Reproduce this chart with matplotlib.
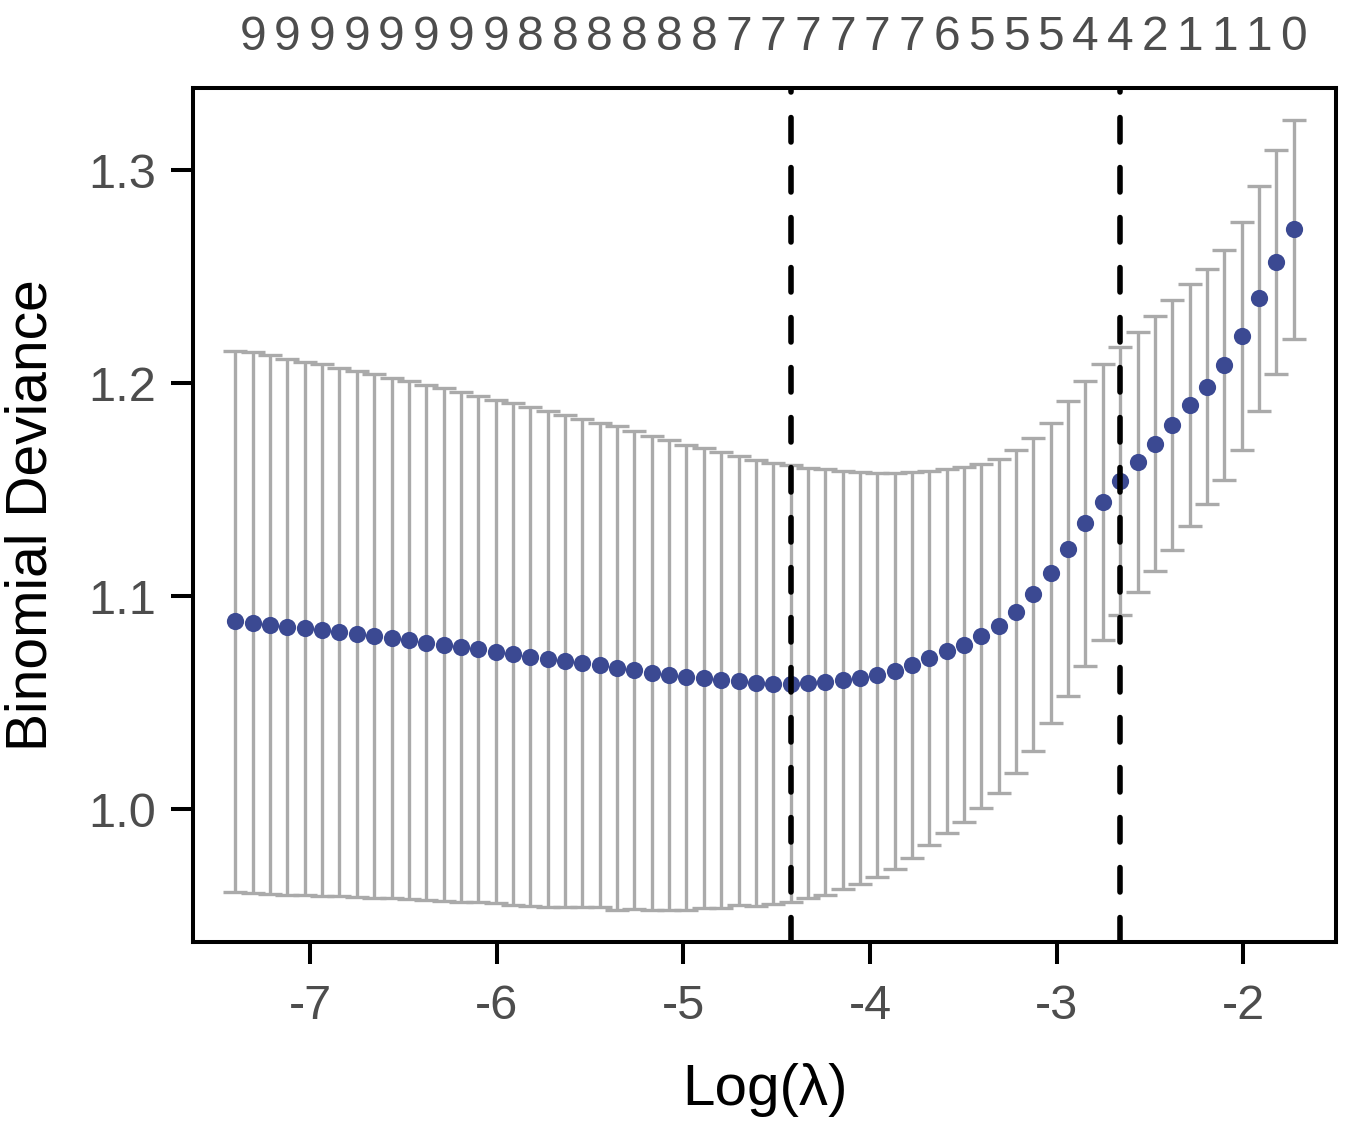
import matplotlib
matplotlib.use('Agg')
import numpy as np
import matplotlib.pyplot as plt

plt.rcParams['font.family'] = ['Liberation Sans', 'DejaVu Sans']

# cross-validation curve (left to right)
log_lambda = [-7.402, -7.309, -7.216, -7.123, -7.030, -6.937, -6.844, -6.751, -6.658, -6.565,
              -6.472, -6.379, -6.286, -6.193, -6.100, -6.007, -5.914, -5.821, -5.728, -5.635,
              -5.542, -5.449, -5.356, -5.263, -5.170, -5.077, -4.984, -4.891, -4.798, -4.705,
              -4.612, -4.519, -4.426, -4.333, -4.240, -4.147, -4.054, -3.961, -3.868, -3.775,
              -3.682, -3.589, -3.496, -3.403, -3.310, -3.217, -3.124, -3.031, -2.938, -2.845,
              -2.752, -2.659, -2.566, -2.473, -2.380, -2.287, -2.194, -2.101, -2.008, -1.915,
              -1.822, -1.729]
cvm = [1.0883, 1.0876, 1.0867, 1.0857, 1.0850, 1.0841, 1.0832, 1.0822, 1.0813, 1.0804,
       1.0794, 1.0783, 1.0773, 1.0762, 1.0752, 1.0741, 1.0729, 1.0717, 1.0706, 1.0696,
       1.0687, 1.0678, 1.0664, 1.0654, 1.0640, 1.0631, 1.0621, 1.0617, 1.0607, 1.0603,
       1.0593, 1.0591, 1.0590, 1.0593, 1.0598, 1.0607, 1.0617, 1.0631, 1.0650, 1.0678,
       1.0710, 1.0743, 1.0773, 1.0813, 1.0860, 1.0928, 1.1009, 1.1110, 1.1224, 1.1343,
       1.1444, 1.1542, 1.1631, 1.1717, 1.1806, 1.1897, 1.1984, 1.2086, 1.2224, 1.2400,
       1.2570, 1.2724]
cvsd = [0.1271, 0.1269, 0.1264, 0.1259, 0.1252, 0.1248, 0.1238, 0.1234, 0.1229, 0.1220,
        0.1215, 0.1208, 0.1203, 0.1196, 0.1187, 0.1180, 0.1178, 0.1171, 0.1164, 0.1154,
        0.1147, 0.1138, 0.1136, 0.1121, 0.1114, 0.1103, 0.1091, 0.1079, 0.1070, 0.1054,
        0.1047, 0.1035, 0.1025, 0.1009, 0.0998, 0.0981, 0.0967, 0.0949, 0.0930, 0.0907,
        0.0879, 0.0855, 0.0834, 0.0808, 0.0785, 0.0759, 0.0734, 0.0706, 0.0692, 0.0668,
        0.0647, 0.0629, 0.0612, 0.0600, 0.0586, 0.0568, 0.0551, 0.0542, 0.0535, 0.0528,
        0.0526, 0.0514]
# number of nonzero coefs shown on top (every other lambda)
nz_labels = [9, 9, 9, 9, 9, 9, 9, 9, 8, 8, 8, 8, 8, 8, 7, 7, 7, 7, 7, 7,
             6, 5, 5, 5, 4, 4, 2, 1, 1, 1, 0]
lambda_min = -4.426
lambda_1se = -2.659
yticks = [1.0, 1.1, 1.2, 1.3]
xticks = [-7, -6, -5, -4, -3, -2]

x = np.array(log_lambda)
m = np.array(cvm)
sd = np.array(cvsd)

fig = plt.figure(figsize=(13.51, 11.34), dpi=100)
ax = fig.add_axes([0.1429, 0.1693, 0.846, 0.7531])

ax.errorbar(x, m, yerr=sd, fmt='none', ecolor='#AAAAAA', elinewidth=2.4,
            capsize=8.5, capthick=2.4, zorder=2)
ax.plot(x, m, 'o', color='#3B4992', ms=12.4, mec='none', zorder=3)
for v in [lambda_min, lambda_1se]:
    ax.axvline(v, color='black', lw=4.0, linestyle=(0, (4.4, 4.6)),
               dash_capstyle='round', zorder=4)

# R style 4% padding
xr = x.max() - x.min()
ax.set_xlim(x.min() - 0.04 * xr, x.max() + 0.04 * xr)
lo, hi = (m - sd).min(), (m + sd).max()
ax.set_ylim(lo - 0.04 * (hi - lo), hi + 0.04 * (hi - lo))

ax.set_xticks(xticks)
ax.set_xticklabels([str(t) for t in xticks])
ax.set_yticks(yticks)
ax.set_yticklabels(['%.1f' % t for t in yticks])
ax.tick_params(axis='both', direction='out', length=15.5, width=2.9,
               labelsize=35, labelcolor='#4D4D4D', color='black')
ax.tick_params(axis='x', pad=15)
ax.tick_params(axis='y', pad=11)
for s in ax.spines.values():
    s.set_linewidth(2.9)
    s.set_color('black')

ax.set_xlabel('Log(\u03bb)', fontsize=42)
ax.xaxis.set_label_coords(0.5, -0.173)
ax.xaxis.label.set_va('center')
ax.set_ylabel('Binomial Deviance', fontsize=41)
ax.yaxis.set_label_coords(-0.141, 0.5)
ax.yaxis.label.set_va('center')

top = ax.twiny()
top.set_xlim(ax.get_xlim())
top.set_xticks(x[1::2])
top.set_xticklabels([str(n) for n in nz_labels])
top.tick_params(axis='x', length=0, pad=20, labelsize=34.5, labelcolor='#4D4D4D')
for s in top.spines.values():
    s.set_visible(False)

fig.savefig('out.png', dpi=100)
